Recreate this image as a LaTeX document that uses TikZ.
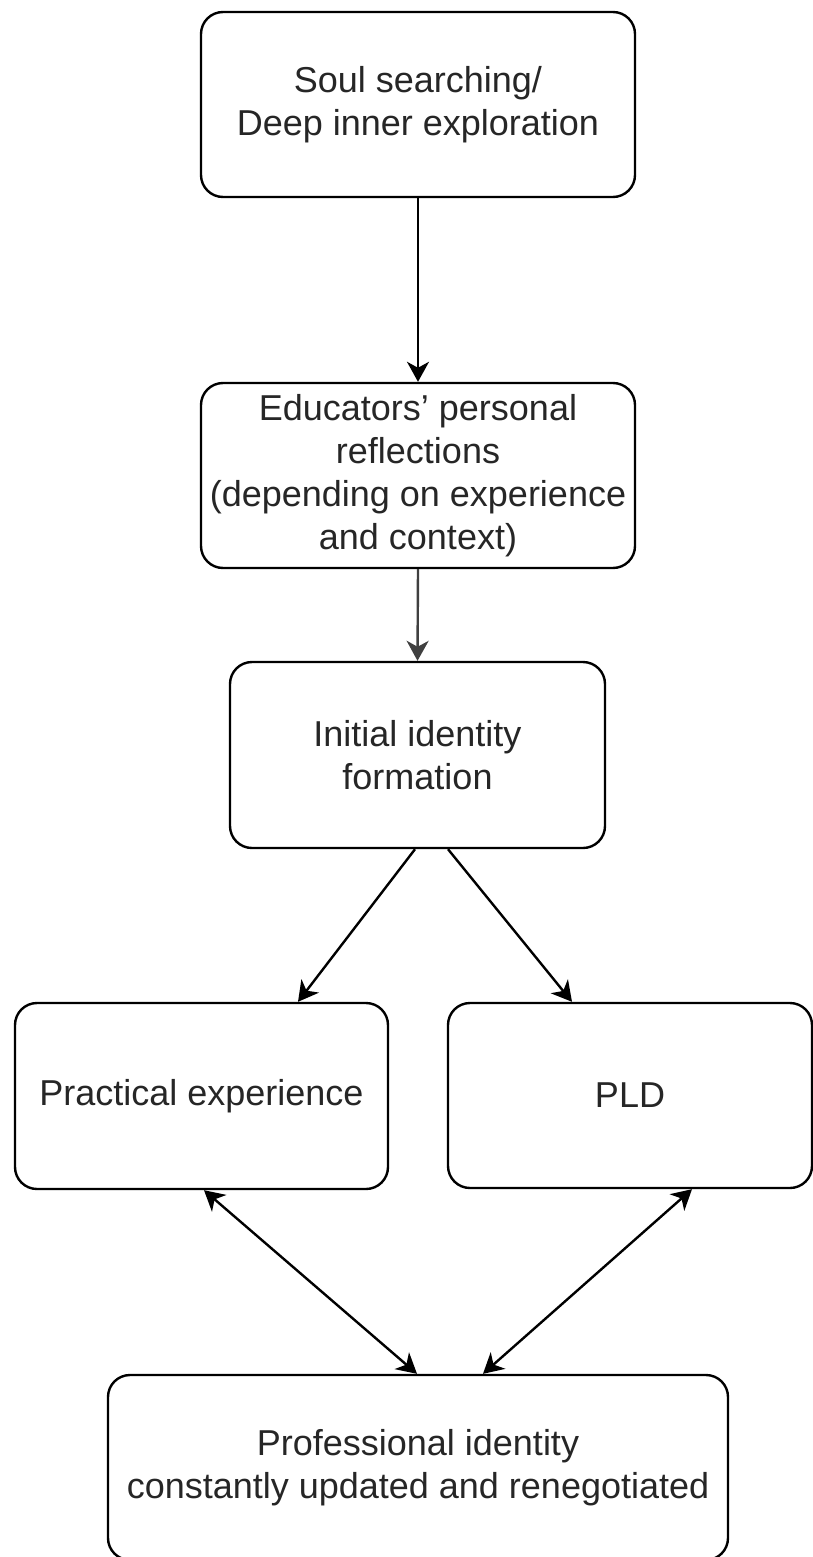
\documentclass[tikz,border=0pt]{standalone}
\usepackage{fontspec}
\setmainfont{Liberation Sans}
\usetikzlibrary{arrows.meta,calc}

\tikzset{
  box/.style={draw=black, line width=2.4pt, rounded corners=22pt, fill=white,
    align=center, text=black!85, inner sep=0pt,
    font=\fontsize{36}{43}\selectfont},
  tip/.style={Stealth[length=20pt,width=22pt,inset=6pt]},
  flow/.style={line width=2.4pt, -{Stealth[length=20pt,width=22pt,inset=6pt]}},
  both/.style={line width=2.4pt, {Stealth[length=20pt,width=22pt,inset=6pt]}-{Stealth[length=20pt,width=22pt,inset=6pt]}}
}

\begin{document}
\begin{tikzpicture}[x=1pt,y=-1pt]
  \useasboundingbox (0,0) rectangle (813,1557);

  % stages, top to bottom
  \node[box, minimum width=434pt, minimum height=185pt] (soul) at (418,104.5)
    {Soul searching/\\Deep inner exploration};
  \node[box, minimum width=434pt, minimum height=185pt] (refl) at (418,475.5)
    {Educators{\char"0027} personal\\reflections\\(depending on experience\\and context)};
  \node[box, minimum width=375pt, minimum height=186pt] (init) at (417.5,755)
    {Initial identity\\formation};
  \node[box, minimum width=373pt, minimum height=186pt] (prac) at (201.5,1096)
    {Practical experience};
  \node[box, minimum width=364pt, minimum height=185pt] (pld) at (630,1095.5)
    {PLD};
  \node[box, minimum width=620pt, minimum height=185pt] (prof) at (418,1467.5)
    {Professional identity\\constantly updated and renegotiated};

  % connectors
  \draw[flow] (soul.south) -- (refl.north);
  \draw[flow, draw=black!75, fill=black!75] (refl.south) -- (init.north);
  \draw[flow] ([xshift=-2.5pt]init.south) -- ([xshift=96.5pt]prac.north);
  \draw[flow] ([xshift=30.5pt]init.south) -- ([xshift=-58pt]pld.north);
  \draw[both] ([xshift=2.5pt]prac.south) -- ([xshift=-1pt]prof.north);
  \draw[both] ([xshift=62pt]pld.south) -- ([xshift=65pt]prof.north);
\end{tikzpicture}
\end{document}
